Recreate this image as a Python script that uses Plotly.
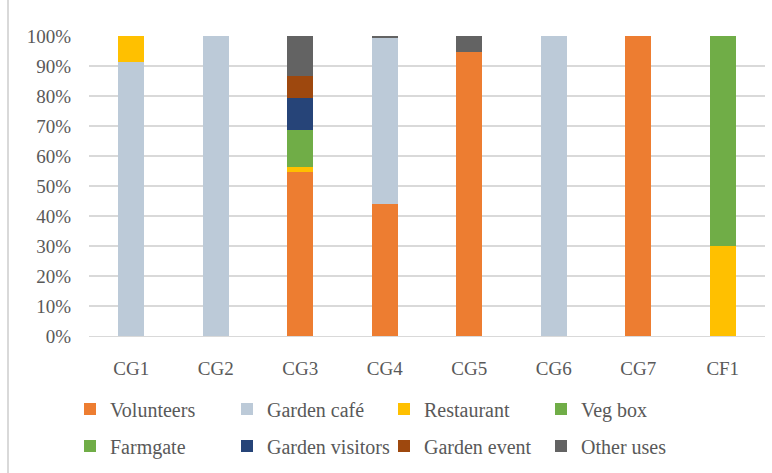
import plotly.graph_objects as go

categories = ["CG1", "CG2", "CG3", "CG4", "CG5", "CG6", "CG7", "CF1"]
volunteers = [0, 0, 54.6, 44.0, 94.8, 0, 100, 0]
garden_cafe = [91.5, 100, 0, 55.5, 0, 100, 0, 0]
restaurant = [8.5, 0, 1.7, 0, 0, 0, 0, 30]
veg_box = [0, 0, 0, 0, 0, 0, 0, 70]
farmgate = [0, 0, 12.4, 0, 0, 0, 0, 0]
garden_visitors = [0, 0, 10.7, 0, 0, 0, 0, 0]
garden_event = [0, 0, 7.3, 0, 0, 0, 0, 0]
other_uses = [0, 0, 13.3, 0.5, 5.2, 0, 0, 0]

y_tick_values = [0, 10, 20, 30, 40, 50, 60, 70, 80, 90, 100]
y_tick_labels = ["0%", "10%", "20%", "30%", "40%", "50%",
                 "60%", "70%", "80%", "90%", "100%"]

series_names = ["Volunteers", "Garden café", "Restaurant", "Veg box",
                "Farmgate", "Garden visitors", "Garden event", "Other uses"]
series_values = [volunteers, garden_cafe, restaurant, veg_box,
                 farmgate, garden_visitors, garden_event, other_uses]
colors = ["#ED7D31", "#BCCAD8", "#FFC000", "#70AD47",
          "#70AD47", "#264478", "#9E480E", "#636363"]
legend_ids = ["legend"] * 4 + ["legend2"] * 4

FONT = "'Liberation Serif', 'Times New Roman', serif"
TXT = "#595959"

fig = go.Figure()
for name, vals, col, lg in zip(series_names, series_values, colors, legend_ids):
    fig.add_trace(go.Bar(x=categories, y=vals, name=name,
                         marker=dict(color=col, line=dict(width=0)),
                         legend=lg))

legend_common = dict(orientation="h", xref="container", yref="container",
                     xanchor="left", yanchor="middle",
                     font=dict(family=FONT, size=20, color=TXT),
                     entrywidth=112, entrywidthmode="pixels",
                     bgcolor="rgba(0,0,0,0)", borderwidth=0,
                     traceorder="normal")

fig.update_layout(
    width=772, height=473, autosize=False,
    margin=dict(l=89, r=7, t=36, b=137),
    barmode="stack", bargap=0.69,
    plot_bgcolor="white", paper_bgcolor="white",
    font=dict(family=FONT, size=19, color=TXT),
    legend=dict(x=70 / 772, y=1 - 409 / 473, **legend_common),
    legend2=dict(x=70 / 772, y=1 - 446 / 473, **legend_common),
    xaxis=dict(showgrid=False, showline=True, linecolor="#D9D9D9", linewidth=1,
               ticks="", tickfont=dict(family=FONT, size=19, color=TXT),
               ticklabelstandoff=15),
    yaxis=dict(range=[0, 100], tickmode="array", tickvals=y_tick_values,
               ticktext=y_tick_labels,
               showgrid=True, gridcolor="#D9D9D9", gridwidth=1.5,
               zeroline=False, showline=False, ticks="",
               tickfont=dict(family=FONT, size=19, color=TXT),
               ticklabelstandoff=17),
    shapes=[dict(type="line", xref="paper", yref="paper",
                 x0=(8 - 89) / 676, x1=(8 - 89) / 676,
                 y0=336 / 300, y1=(336 - 473) / 300,
                 line=dict(color="#D9D9D9", width=2))],
)

fig.write_html("out.html")
